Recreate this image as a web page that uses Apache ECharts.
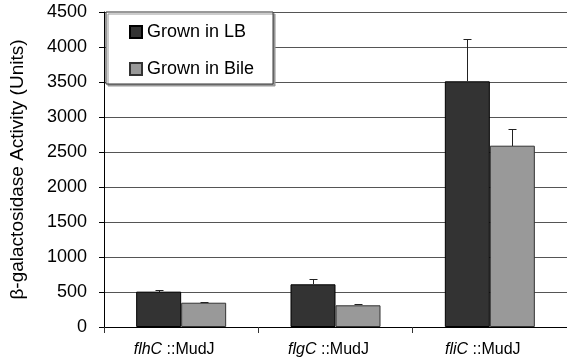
<!DOCTYPE html>
<html>
<head>
<meta charset="utf-8">
<script src="https://cdn.jsdelivr.net/npm/echarts@6/dist/echarts.min.js"></script>
<style>html,body{margin:0;padding:0;background:#fff;}#c{width:567px;height:360px;}</style>
</head>
<body>
<div id="c"></div>
<script>
const genes = ['flhC', 'flgC', 'fliC'];
const suffix = ' ::MudJ';
const lbValues = [505, 610, 3510];
const lbErrors = [19, 71, 609];
const bileValues = [347, 310, 2590];
const bileErrors = [10, 14, 243];
const yTicks = [0, 500, 1000, 1500, 2000, 2500, 3000, 3500, 4000, 4500];

const FONT = "'Liberation Sans', Arial, sans-serif";
const BAR_W = 45;

function errSeries(name, values, errors, offset) {
  return {
    type: 'custom',
    name: name + ' err',
    z: 5,
    data: values.map((v, i) => [i, v, errors[i]]),
    encode: { x: 0, y: 1 },
    renderItem: function (params, api) {
      const base = api.coord([api.value(0), api.value(1)]);
      const top = api.coord([api.value(0), api.value(1) + api.value(2)]);
      const x = Math.round(base[0] + offset) + 0.5;
      const y1 = Math.round(base[1]);
      const y2 = Math.round(top[1]) + 0.5;
      return {
        type: 'group',
        children: [
          { type: 'line', shape: { x1: x, y1: y1, x2: x, y2: y2 }, style: { stroke: '#222', lineWidth: 1 } },
          { type: 'line', shape: { x1: x - 4, y1: y2, x2: x + 4, y2: y2 }, style: { stroke: '#222', lineWidth: 1 } }
        ]
      };
    },
    silent: true,
    tooltip: { show: false }
  };
}

const chart = echarts.init(document.getElementById('c'), null, { renderer: 'canvas' });
chart.setOption({
  animation: false,
  backgroundColor: '#fff',
  textStyle: { fontFamily: FONT },
  grid: { left: 100, right: 0, top: 12, bottom: 33, containLabel: false },
  legend: {
    orient: 'vertical',
    left: 106,
    top: 12,
    data: ['Grown in LB', 'Grown in Bile'],
    itemWidth: 12,
    itemHeight: 12,
    itemGap: 19,
    padding: [11, 19, 6, 23],
    backgroundColor: '#fff',
    borderColor: '#333',
    borderWidth: 1,
    shadowColor: '#999',
    shadowBlur: 0,
    shadowOffsetX: 2,
    shadowOffsetY: 2,
    textStyle: { fontSize: 18, color: '#000', fontFamily: FONT },
    icon: 'rect'
  },
  xAxis: {
    type: 'category',
    data: genes,
    boundaryGap: true,
    axisLine: { lineStyle: { color: '#000', width: 1 } },
    axisTick: { show: true, length: 6, interval: 0, lineStyle: { color: '#333' } },
    axisLabel: {
      interval: 0,
      margin: 15,
      formatter: function (v) { return '{i|' + v + '}{n|' + suffix + '}{s|}'; },
      rich: {
        i: { fontStyle: 'italic', fontSize: 16, color: '#000', fontFamily: FONT },
        n: { fontSize: 16, color: '#000', fontFamily: FONT },
        s: { width: 14, fontSize: 16 }
      }
    },
    splitLine: { show: false }
  },
  yAxis: {
    type: 'value',
    min: yTicks[0],
    max: yTicks[yTicks.length - 1],
    interval: 500,
    name: 'β-galactosidase Activity (Units)',
    nameLocation: 'middle',
    nameGap: 77,
    nameTextStyle: { fontSize: 19, color: '#000', fontFamily: FONT },
    axisLine: { show: true, lineStyle: { color: '#000', width: 1 } },
    axisTick: { show: true, length: 5, lineStyle: { color: '#000' } },
    axisLabel: { fontSize: 18, color: '#000', margin: 17, fontFamily: FONT, formatter: function (v) { return String(v); } },
    splitLine: { show: true, lineStyle: { color: '#555', width: 1 } }
  },
  series: [
    {
      name: 'Grown in LB',
      type: 'bar',
      data: lbValues,
      barWidth: BAR_W,
      barGap: '0%',
      itemStyle: { color: '#333', borderColor: '#000', borderWidth: 1 }
    },
    {
      name: 'Grown in Bile',
      type: 'bar',
      data: bileValues,
      barWidth: BAR_W,
      barGap: '0%',
      itemStyle: { color: '#999', borderColor: '#333', borderWidth: 1 }
    },
    errSeries('Grown in LB', lbValues, lbErrors, -BAR_W / 2),
    errSeries('Grown in Bile', bileValues, bileErrors, BAR_W / 2)
  ]
});
</script>
</body>
</html>
